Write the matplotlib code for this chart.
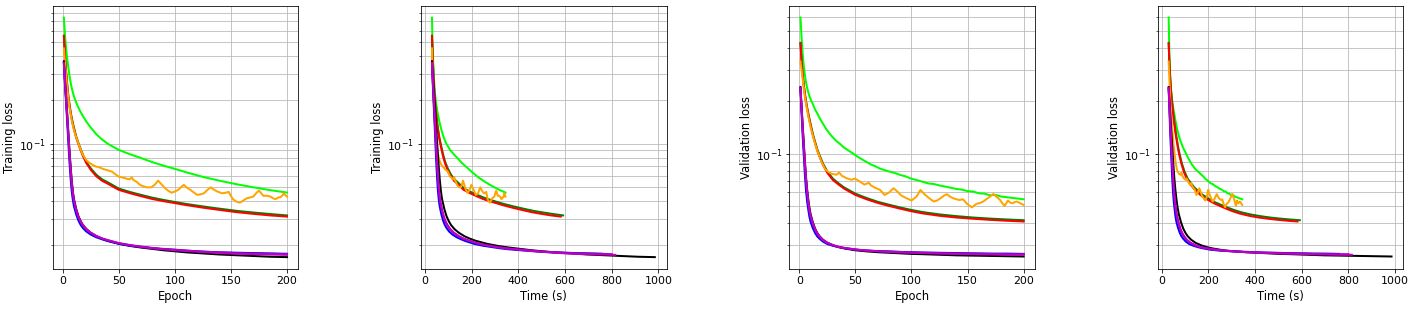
import matplotlib
matplotlib.use("Agg")
import matplotlib.pyplot as plt

# ---------------- data ----------------
epochs = [1, 2, 3, 4, 5, 6, 7, 8, 9, 10, 12, 14, 16, 18, 21, 25, 30, 35, 40,
          50, 60, 70, 80, 90, 100, 110, 125, 140, 155, 170, 185, 200]

# training loss
train_lime = [0.74, 0.56, 0.45, 0.385, 0.335, 0.295, 0.265, 0.243, 0.226, 0.212, 0.192, 0.177,
              0.165, 0.155, 0.142, 0.129, 0.116, 0.107, 0.100, 0.0905, 0.0845, 0.0795, 0.0745,
              0.0705, 0.067, 0.0635, 0.059, 0.0555, 0.0525, 0.050, 0.0478, 0.046]
train_red = [0.553, 0.40, 0.31, 0.25, 0.21, 0.183, 0.163, 0.148, 0.136, 0.126, 0.11, 0.099,
             0.09, 0.082, 0.0735, 0.066, 0.0595, 0.0555, 0.053, 0.048, 0.0455, 0.0434, 0.0415,
             0.0401, 0.0389, 0.0377, 0.0362, 0.0349, 0.0337, 0.0328, 0.032, 0.0314]
train_green = [0.555, 0.405, 0.315, 0.255, 0.214, 0.187, 0.167, 0.151, 0.139, 0.129, 0.112, 0.101,
               0.092, 0.084, 0.075, 0.0675, 0.061, 0.0568, 0.0542, 0.049, 0.0464, 0.0443, 0.0424,
               0.0409, 0.0396, 0.0384, 0.0369, 0.0356, 0.0344, 0.0335, 0.0327, 0.032]
train_blue = [0.36, 0.255, 0.19, 0.14, 0.102, 0.075, 0.058, 0.047, 0.041, 0.037, 0.0325, 0.0295,
              0.0275, 0.0262, 0.0248, 0.0236, 0.0226, 0.0219, 0.0213, 0.0204, 0.0198, 0.0194,
              0.0190, 0.0187, 0.0185, 0.0183, 0.0180, 0.0178, 0.0177, 0.0176, 0.0175, 0.0174]
train_purple = [0.36, 0.265, 0.2, 0.152, 0.113, 0.085, 0.066, 0.053, 0.045, 0.040, 0.0345, 0.031,
                0.0288, 0.0272, 0.0256, 0.0242, 0.023, 0.0222, 0.0216, 0.0206, 0.02, 0.0195,
                0.0191, 0.0188, 0.0186, 0.0183, 0.018, 0.0178, 0.0176, 0.0175, 0.0174, 0.0173]
train_magenta = [0.36, 0.27, 0.205, 0.155, 0.116, 0.087, 0.068, 0.054, 0.046, 0.0405, 0.035, 0.0313,
                 0.029, 0.0274, 0.0257, 0.0243, 0.0231, 0.0222, 0.0216, 0.0206, 0.0199, 0.0194,
                 0.019, 0.0187, 0.0184, 0.0182, 0.0179, 0.0176, 0.0174, 0.0173, 0.0172, 0.0171]
train_black = [0.37, 0.275, 0.21, 0.16, 0.12, 0.09, 0.07, 0.056, 0.047, 0.0415, 0.0355, 0.0316,
               0.0292, 0.0275, 0.0258, 0.0243, 0.023, 0.0221, 0.0214, 0.0204, 0.0197, 0.0192,
               0.0188, 0.0184, 0.0181, 0.0178, 0.0175, 0.0172, 0.017, 0.0168, 0.0166, 0.0165]

train_orange_epochs = [1, 2, 3, 4, 5, 6, 8, 10, 12, 14, 16, 18, 21, 24, 27, 30, 33, 36, 40, 44, 47,
                       50, 53, 56, 58, 60, 61.5, 63, 66, 69, 72, 75, 79, 82, 85, 88, 91, 94, 97,
                       100, 103, 106, 108, 111, 114, 117, 120, 123, 126, 129, 132, 135, 138, 142,
                       145, 148, 150, 152, 155, 158, 161, 164, 167, 170, 173, 175, 177, 179, 182,
                       185, 188, 190, 192, 194, 196, 197, 199, 200]
train_orange = [0.454, 0.36, 0.29, 0.24, 0.205, 0.178, 0.145, 0.124, 0.11, 0.1, 0.091, 0.0835,
                0.077, 0.0735, 0.0712, 0.0694, 0.0685, 0.0669, 0.0655, 0.0641, 0.0615, 0.0592,
                0.0585, 0.0577, 0.057, 0.0568, 0.0586, 0.0562, 0.0545, 0.0519, 0.0508, 0.050,
                0.050, 0.052, 0.0556, 0.0525, 0.0495, 0.0474, 0.0459, 0.0468, 0.048, 0.0505,
                0.052, 0.0495, 0.0479, 0.046, 0.0443, 0.0448, 0.0455, 0.048, 0.050, 0.048,
                0.0467, 0.0455, 0.0458, 0.0465, 0.0435, 0.0412, 0.0398, 0.0392, 0.0405, 0.042,
                0.0425, 0.0432, 0.046, 0.0474, 0.0455, 0.0436, 0.0438, 0.0432, 0.0418, 0.0415,
                0.0425, 0.0427, 0.044, 0.0455, 0.0438, 0.0431]

# validation loss
val_lime_epochs = [1, 2, 3, 4, 5, 6, 7, 8, 9, 10, 12, 14, 16, 18, 20, 22, 24, 27, 30, 33, 36,
                   40, 44, 48, 52, 56, 60, 64, 68, 72, 76, 80, 85, 90, 95, 100, 105, 110, 115,
                   120, 125, 130, 135, 140, 145, 150, 155, 160, 165, 170, 175, 180, 185, 190,
                   195, 200]
val_lime = [0.60, 0.46, 0.37, 0.315, 0.28, 0.255, 0.237, 0.224, 0.213, 0.205, 0.192, 0.179,
            0.17, 0.16, 0.152, 0.145, 0.138, 0.13, 0.1235, 0.118, 0.114, 0.108, 0.104, 0.1,
            0.096, 0.0925, 0.0895, 0.0865, 0.0845, 0.082, 0.0805, 0.079, 0.0775, 0.0755, 0.074,
            0.0718, 0.0705, 0.069, 0.0675, 0.067, 0.0657, 0.0648, 0.0638, 0.0628, 0.0622, 0.061,
            0.0607, 0.0593, 0.059, 0.0578, 0.058, 0.0568, 0.0563, 0.0558, 0.0553, 0.0548]
val_red = [0.427, 0.335, 0.28, 0.243, 0.216, 0.196, 0.18, 0.167, 0.155, 0.145, 0.128, 0.115,
           0.104, 0.096, 0.0865, 0.0775, 0.0705, 0.0665, 0.063, 0.058, 0.0548, 0.0522, 0.0502,
           0.0484, 0.0468, 0.0455, 0.0441, 0.0431, 0.0424, 0.0418, 0.0413, 0.0409]
val_green = [0.43, 0.34, 0.284, 0.247, 0.22, 0.199, 0.183, 0.17, 0.158, 0.148, 0.13, 0.117,
             0.106, 0.098, 0.088, 0.079, 0.0718, 0.0676, 0.064, 0.059, 0.0557, 0.053, 0.051,
             0.0492, 0.0476, 0.0463, 0.0449, 0.0439, 0.0431, 0.0425, 0.042, 0.0416]
val_blue = [0.236, 0.17, 0.125, 0.097, 0.075, 0.061, 0.053, 0.0477, 0.0435, 0.0408, 0.0375, 0.0352,
            0.0336, 0.0326, 0.0314, 0.0304, 0.0297, 0.0292, 0.0288, 0.0282, 0.0279, 0.0277,
            0.0276, 0.0274, 0.0273, 0.0272, 0.0271, 0.027, 0.0269, 0.0268, 0.0268, 0.0267]
val_purple = [0.236, 0.18, 0.138, 0.108, 0.085, 0.069, 0.059, 0.052, 0.047, 0.0435, 0.0395, 0.0366,
              0.0347, 0.0334, 0.032, 0.0308, 0.0299, 0.0293, 0.0289, 0.0283, 0.0279, 0.0277,
              0.0275, 0.0274, 0.0272, 0.0271, 0.027, 0.0269, 0.0268, 0.0267, 0.0266, 0.0266]
val_magenta = [0.236, 0.182, 0.14, 0.11, 0.087, 0.071, 0.06, 0.053, 0.048, 0.0443, 0.04, 0.037,
               0.035, 0.0336, 0.0321, 0.0309, 0.03, 0.0293, 0.0289, 0.0283, 0.0279, 0.0276,
               0.0274, 0.0272, 0.0271, 0.027, 0.0268, 0.0267, 0.0266, 0.0265, 0.0264, 0.0264]
val_black = [0.24, 0.186, 0.145, 0.114, 0.09, 0.073, 0.062, 0.0545, 0.049, 0.0452, 0.0405, 0.0373,
             0.0352, 0.0337, 0.0322, 0.0309, 0.0299, 0.0292, 0.0287, 0.028, 0.0276, 0.0273,
             0.0271, 0.0269, 0.0267, 0.0266, 0.0264, 0.0262, 0.0261, 0.026, 0.0259, 0.0258]

val_orange_epochs = [1, 2, 3, 4, 5, 6, 8, 10, 12, 14, 16, 18, 20, 23, 26, 29, 33, 35.5, 38, 42,
                     46.5, 49.5, 54, 58, 62, 64, 67, 72, 76, 80, 84, 87, 91, 95.5, 100, 104.5,
                     108, 111, 114, 117, 120, 123, 126, 129, 131.5, 134, 137, 140, 143, 146, 149,
                     152, 154, 156, 158, 161, 164, 167, 170, 173, 176, 179, 181, 183, 186, 188,
                     190, 192, 194, 197, 200]
val_orange = [0.336, 0.3, 0.265, 0.235, 0.21, 0.192, 0.163, 0.142, 0.127, 0.114, 0.104, 0.096,
              0.089, 0.0815, 0.0785, 0.0766, 0.0757, 0.0779, 0.0746, 0.0724, 0.0708, 0.072,
              0.0692, 0.0665, 0.068, 0.0657, 0.064, 0.062, 0.058, 0.0599, 0.0634, 0.061, 0.0575,
              0.0556, 0.0539, 0.0568, 0.062, 0.059, 0.0568, 0.0548, 0.0532, 0.054, 0.0556,
              0.0575, 0.0586, 0.057, 0.0556, 0.0548, 0.0543, 0.0548, 0.052, 0.0502, 0.0493,
              0.0505, 0.0516, 0.0522, 0.0532, 0.055, 0.0568, 0.0588, 0.0565, 0.0543, 0.052,
              0.0502, 0.0539, 0.0525, 0.052, 0.0528, 0.0532, 0.052, 0.0509]

# wall-clock time of first and last epoch for each run (s)
series_names = ["lime", "green", "red", "orange", "black", "blue", "purple", "magenta"]
series_colors = ["lime", "green", "red", "orange", "black", "blue", "darkviolet", "m"]
time_first = [30, 30, 30, 30, 30, 30, 30, 30]
time_last = [345, 592, 582, 345, 985, 760, 800, 815]
n_epochs = 200

train_series = [(epochs, train_lime), (epochs, train_green), (epochs, train_red),
                (train_orange_epochs, train_orange), (epochs, train_black), (epochs, train_blue),
                (epochs, train_purple), (epochs, train_magenta)]
val_series = [(val_lime_epochs, val_lime), (epochs, val_green), (epochs, val_red),
              (val_orange_epochs, val_orange), (epochs, val_black), (epochs, val_blue),
              (epochs, val_purple), (epochs, val_magenta)]

# ---------------- figure ----------------
W, H, DPI = 1413, 309, 72
fig = plt.figure(figsize=(W / DPI, H / DPI), dpi=DPI)

lefts = [52.7, 421.0, 789.3, 1157.7]
ax_w, ax_bot, ax_top = 245.5, 269.3, 6.0
axes = [fig.add_axes([l / W, (H - ax_bot) / H, ax_w / W, (ax_bot - ax_top) / H]) for l in lefts]


def to_time(ep_list, i):
    rate = (time_last[i] - time_first[i]) / (n_epochs - 1)
    return [time_first[i] + (e - 1) * rate for e in ep_list]


configs = [
    (axes[0], train_series, False, "Epoch", "Training loss", (0.0136, 0.89)),
    (axes[1], train_series, True, "Time (s)", "Training loss", (0.0136, 0.89)),
    (axes[2], val_series, False, "Epoch", "Validation loss", (0.0218, 0.698)),
    (axes[3], val_series, True, "Time (s)", "Validation loss", (0.0218, 0.698)),
]

for ax, series, use_time, xl, yl, ylim in configs:
    for i, (ep, vals) in enumerate(series):
        x = to_time(ep, i) if use_time else ep
        ax.plot(x, vals, color=series_colors[i], lw=2)
    ax.set_yscale("log")
    ax.set_ylim(*ylim)
    if use_time:
        ax.set_xlim(-17, 1035)
        ax.set_xticks([0, 200, 400, 600, 800, 1000])
    else:
        ax.set_xlim(-8.95, 209.95)
        ax.set_xticks([0, 50, 100, 150, 200])
    ax.grid(True, which="both", color="#b8b8b8")
    ax.set_xlabel(xl, fontsize=11.5)
    ax.set_ylabel(yl, fontsize=11.5, labelpad=3)
    ax.tick_params(labelsize=11)

fig.savefig("out.png", dpi=DPI)
